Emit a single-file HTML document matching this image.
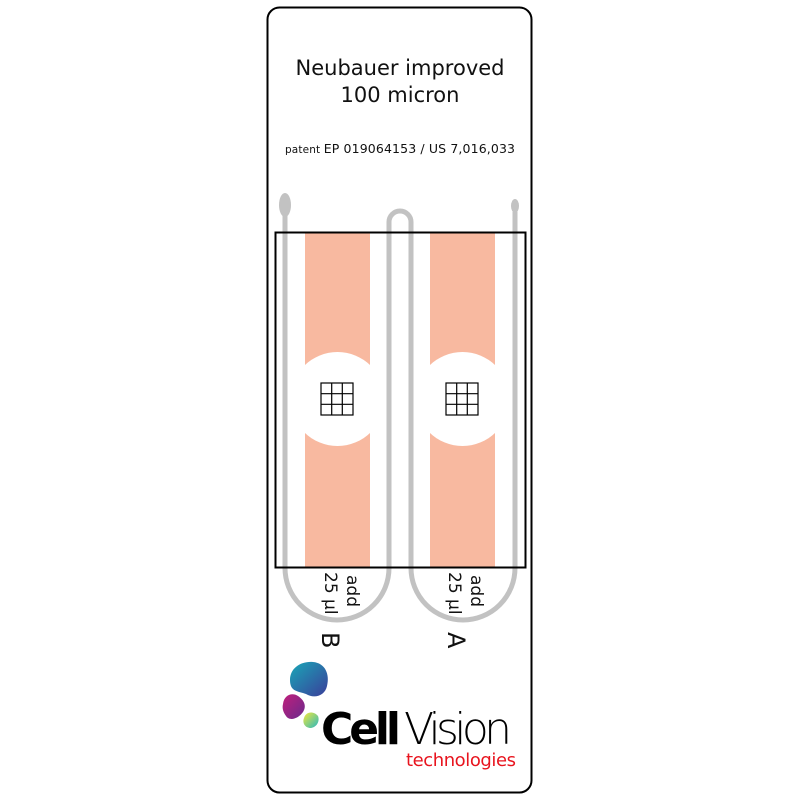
<!DOCTYPE html>
<html><head><meta charset="utf-8"><style>
html,body{margin:0;padding:0;background:#fff;}
svg{display:block;}
text{font-family:"DejaVu Sans","Liberation Sans",sans-serif;}
</style></head><body>
<svg width="800" height="800" viewBox="0 0 800 800" xmlns="http://www.w3.org/2000/svg">
<defs>
<clipPath id="cb"><rect x="305" y="232" width="65" height="335"/><rect x="430" y="232" width="65" height="335"/></clipPath>
<linearGradient id="g1" x1="0" y1="0" x2="1" y2="1"><stop offset="0" stop-color="#19a7b7"/><stop offset="1" stop-color="#3a3e9a"/></linearGradient>
<linearGradient id="g2" x1="0" y1="0" x2="1" y2="1"><stop offset="0" stop-color="#c01f7c"/><stop offset="1" stop-color="#6a2a8c"/></linearGradient>
<linearGradient id="g3" x1="0" y1="0" x2="1" y2="1"><stop offset="0" stop-color="#f3e83a"/><stop offset="1" stop-color="#28b8c0"/></linearGradient>
</defs>
<rect x="267.5" y="7.5" width="264" height="785" rx="12" fill="#fff" stroke="#000" stroke-width="2"/>
<text x="400" y="75" font-size="21" text-anchor="middle" fill="#111">Neubauer improved</text>
<text x="400" y="102" font-size="21" text-anchor="middle" fill="#111">100 micron</text>
<text x="400" y="153" font-size="12.5" text-anchor="middle" fill="#111" textLength="230"><tspan font-size="10.5">patent </tspan>EP 019064153 / US 7,016,033</text>
<rect x="305" y="232" width="65" height="335" fill="#f8b9a0"/>
<rect x="430" y="232" width="65" height="335" fill="#f8b9a0"/>
<g clip-path="url(#cb)" fill="#fff">
<circle cx="337.5" cy="399" r="47"/>
<circle cx="462.5" cy="399" r="47"/>
<rect x="305" y="367" width="65" height="64"/>
<rect x="430" y="367" width="65" height="64"/>
</g>
<g stroke="#000" stroke-width="1.2" fill="none">
<rect x="321" y="383" width="32" height="32"/>
<path d="M331.7 383V415M342.3 383V415M321 393.7H353M321 404.3H353"/>
<rect x="446" y="383" width="32" height="32"/>
<path d="M456.7 383V415M467.3 383V415M446 393.7H478M446 404.3H478"/>
</g>
<g stroke="#c2c2c2" stroke-width="5" fill="none">
<path d="M285 210V568A52 52 0 0 0 389 568V222A11 11 0 0 1 411 222V568A52 52 0 0 0 515 568V212"/>
</g>
<ellipse cx="285" cy="205" rx="6" ry="12" fill="#c2c2c2"/>
<ellipse cx="515" cy="206" rx="4" ry="7" fill="#c2c2c2"/>
<rect x="275.5" y="232.5" width="250" height="335" fill="none" stroke="#000" stroke-width="2"/>
<g font-size="17" fill="#111">
<text transform="translate(347,575) rotate(90)">add</text>
<text transform="translate(325,572) rotate(90)">25 µl</text>
<text transform="translate(471,575) rotate(90)">add</text>
<text transform="translate(449,572) rotate(90)">25 µl</text>
</g>
<g font-size="24" fill="#111">
<text transform="translate(322,632) rotate(90)">B</text>
<text transform="translate(448,632) rotate(90)">A</text>
</g>
<path d="M290 680C290 668 301 661 313 662C325 663 330 674 327 686C325 696 314 699 306 694C298 691 290 692 290 680Z" fill="url(#g1)"/>
<path d="M283 704C284 695 292 692 298 696C304 700 307 706 303 712C299 718 290 722 286 716C283 712 282 708 283 704Z" fill="url(#g2)"/>
<path d="M304 718C306 711 314 711 318 716C320 721 317 727 311 728C305 728 302 723 304 718Z" fill="url(#g3)"/>
<text x="321" y="744" font-size="44" font-weight="bold" fill="#000" textLength="80" font-family="Liberation Sans, sans-serif">Cell</text>
<text x="404" y="744" font-size="44" fill="#000" textLength="108" style="font-weight:200" font-family="DejaVu Sans, sans-serif">Vision</text>
<text x="406" y="766" font-size="18" fill="#e8141e" textLength="110">technologies</text>
</svg>
</body></html>
